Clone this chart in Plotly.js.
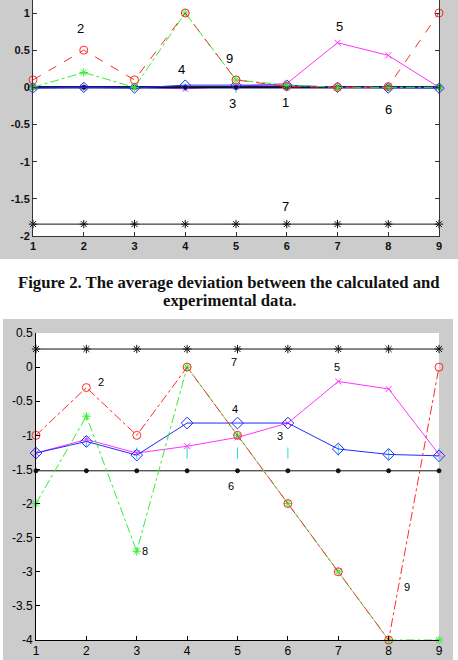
<!DOCTYPE html>
<html>
<head>
<meta charset="utf-8">
<script src="https://cdn.plot.ly/plotly-3.0.1.min.js"></script>
<style>
  html, body { margin: 0; padding: 0; background: #ffffff; }
  #chart { width: 458px; height: 660px; }
</style>
</head>
<body>
<div id="chart"></div>
<script>
// Sample index shared by both panels
const idx = [1, 2, 3, 4, 5, 6, 7, 8, 9];

// Upper panel: average deviation per series
const upS1 = [0, 0, 0, 0, 0, 0, 0, 0, 0];
const upS2 = [0.1, 0.5, 0.1, 1.0, 0.1, 0.01, 0, 0.01, 1.0];
const upS3 = [0, 0, 0, 0, -0.02, 0, 0, 0, 0];
const upS4 = [-0.01, 0, -0.01, 0.03, 0.03, 0.03, 0, -0.01, -0.01];
const upS5 = [0, 0, 0, -0.02, 0.01, 0.05, 0.6, 0.43, 0];
const upS6 = [0, 0, 0, 0, 0, 0, 0, 0, 0];
const upS7 = [-1.84, -1.84, -1.84, -1.84, -1.84, -1.84, -1.84, -1.84, -1.84];
const upS8 = [0, 0.2, 0, 1.0, 0.1, 0.03, 0, 0, 0];

// Upper panel series labels
const upLabelText = ['1', '2', '3', '4', '5', '6', '7', '8', '9'];
const upLabelX = [5.98, 1.94, 4.94, 3.92, 7.03, 8.01, 5.97, 3.88, 4.88];
const upLabelY = [-0.21, 0.785, -0.215, 0.243, 0.816, -0.296, -1.597, 1.2, 0.39];

// Lower panel
const loS2 = [-1.0, -0.3, -1.0, 0, -1.0, -2.0, -3.0, -4.0, 0];
const loS3 = [-1.26, -1.09, -1.26, -1.26, -1.26, -1.26, -1.22, -1.28, -1.27];
const loS4 = [-1.26, -1.09, -1.29, -0.82, -0.82, -0.82, -1.2, -1.28, -1.3];
const loS5 = [-1.26, -1.06, -1.26, -1.16, -1.03, -0.82, -0.21, -0.32, -1.28];
const loS6 = [-1.52, -1.52, -1.52, -1.52, -1.52, -1.52, -1.52, -1.52, -1.52];
const loS7 = [0.265, 0.265, 0.265, 0.265, 0.265, 0.265, 0.265, 0.265, 0.265];
const loS8 = [-2.0, -0.72, -2.7, 0, -1.0, -2.0, -3.0, -4.0, -4.0];

const loLabelText = ['2', '3', '4', '5', '6', '7', '8', '9'];
const loLabelX = [2.29, 5.85, 4.95, 6.98, 4.87, 4.94, 3.17, 8.36];
const loLabelY = [-0.22, -1.01, -0.62, 0.0, -1.74, 0.08, -2.69, -3.23];

// Tick labels (hyphen minus, as printed)
const upYTickVals = [1, 0.5, 0, -0.5, -1, -1.5, -2];
const upYTickText = ['1', '0.5', '0', '-0.5', '-1', '-1.5', '-2'];
const loYTickVals = [0.5, 0, -0.5, -1, -1.5, -2, -2.5, -3, -3.5, -4];
const loYTickText = ['0.5', '0', '-0.5', '-1', '-1.5', '-2', '-2.5', '-3', '-3.5', '-4'];
const xTickText = ['1', '2', '3', '4', '5', '6', '7', '8', '9'];

// Caption, one entry per printed line
const captionLines = ['Figure 2. The average deviation between the calculated and', 'experimental data.'];

// MATLAB-like colours
const RED = '#ff2a2a', GREEN = '#33ee33', BLUE = '#1f2cff', MAG = '#ff33ff',
      CYAN = '#22dddd', NAVY = '#1a1a66', BLACK = '#111111';

function line(x, y, ax, color, dash, symbol, size, width, mode) {
  return {
    x: x, y: y, xaxis: ax[0], yaxis: ax[1], type: 'scatter', mode: mode || 'lines+markers',
    line: { color: color, dash: dash, width: width || 1 },
    marker: { symbol: symbol, size: size, color: color, line: { color: color, width: 1 } },
    hoverinfo: 'skip', cliponaxis: false
  };
}
const UP = ['x', 'y'], LO = ['x2', 'y2'];

const traces = [
  // upper panel
  line(idx, upS7, UP, BLACK, 'solid', 'asterisk-open', 7),
  line(idx, upS3, UP, CYAN, 'solid', 'line-ns-open', 6, 1, 'markers'),
  line(idx, upS5, UP, MAG, 'solid', 'x-thin-open', 6),
  line(idx, upS6, UP, NAVY, 'solid', 'circle', 1, 2.5),
  line(idx, upS1, UP, BLACK, 'solid', 'circle', 4),
  line(idx, upS4, UP, BLUE, 'solid', 'diamond-open', 8),
  line(idx, upS8, UP, GREEN, 'dashdot', 'asterisk-open', 7),
  line(idx, upS2, UP, RED, 'dash', 'circle-open', 8),
  // lower panel
  line(idx, loS7, LO, BLACK, 'solid', 'asterisk-open', 7),
  line(idx, loS6, LO, BLACK, 'solid', 'circle', 4),
  line(idx, loS3, LO, CYAN, 'solid', 'line-ns-open', 8, 1, 'markers'),
  line(idx, loS5, LO, MAG, 'solid', 'x-thin-open', 6),
  line(idx, loS4, LO, BLUE, 'solid', 'diamond-open', 9),
  line(idx, loS8, LO, GREEN, 'dashdot', 'asterisk-open', 7),
  line(idx, loS2, LO, RED, 'dashdot', 'circle-open', 8)
];

const H = 660, W = 458;

const annotations = [];
upLabelText.forEach((t, i) => annotations.push({
  x: upLabelX[i], y: upLabelY[i], xref: 'x', yref: 'y', text: t, showarrow: false,
  font: { family: 'Liberation Sans, Arial', size: 13, color: '#000' }
}));
loLabelText.forEach((t, i) => annotations.push({
  x: loLabelX[i], y: loLabelY[i], xref: 'x2', yref: 'y2', text: t, showarrow: false,
  font: { family: 'Liberation Sans, Arial', size: 11, color: '#000' }
}));
const captionY = [282, 300];
captionLines.forEach((t, i) => annotations.push({
  x: 0.5, y: 1 - captionY[i] / H, xref: 'paper', yref: 'paper', text: '<b>' + t + '</b>', showarrow: false,
  font: { family: 'Liberation Serif', size: 16.7, color: '#111' },
  align: 'center', yanchor: 'middle'
}));

const layout = {
  width: W, height: H,
  margin: { l: 0, r: 0, t: 0, b: 0, pad: 0 },
  paper_bgcolor: '#ffffff', plot_bgcolor: 'rgba(0,0,0,0)',
  showlegend: false,
  shapes: [
    // figure frames (grey) and white axes areas
    { type: 'rect', xref: 'paper', yref: 'paper', x0: 0, x1: 1, y0: 1 - 259 / H, y1: 1,
      fillcolor: '#cccccc', line: { width: 0 }, layer: 'below' },
    { type: 'rect', xref: 'paper', yref: 'paper', x0: 3 / W, x1: 453 / W, y0: 0, y1: 1 - 319 / H,
      fillcolor: '#cccccc', line: { width: 0 }, layer: 'below' },
    { type: 'rect', xref: 'paper', yref: 'paper', x0: 33 / W, x1: 439 / W, y0: 1 - 236 / H, y1: 1,
      fillcolor: '#ffffff', line: { width: 0 }, layer: 'below' },
    { type: 'rect', xref: 'paper', yref: 'paper', x0: 36 / W, x1: 439 / W, y0: 1 - 640 / H, y1: 1 - 333 / H,
      fillcolor: '#ffffff', line: { width: 0 }, layer: 'below' }
  ],
  xaxis: {
    domain: [33 / W, 439 / W], range: [1, 9], anchor: 'y',
    tickvals: idx, ticktext: xTickText, ticks: 'inside', ticklen: 4, tickcolor: '#333',
    showline: true, linecolor: '#333', linewidth: 1, mirror: false,
    showgrid: false, zeroline: false,
    tickfont: { family: 'Liberation Sans, Arial', size: 11, color: '#111', weight: 'bold' }
  },
  yaxis: {
    domain: [1 - 236 / H, 1], range: [-2, 1.175], anchor: 'x',
    tickvals: upYTickVals, ticktext: upYTickText, ticks: 'inside', ticklen: 4, tickcolor: '#333',
    showline: true, linecolor: '#333', linewidth: 1, mirror: 'ticks',
    showgrid: false, zeroline: false,
    tickfont: { family: 'Liberation Sans, Arial', size: 11, color: '#111', weight: 'bold' }
  },
  xaxis2: {
    domain: [36 / W, 439 / W], range: [1, 9], anchor: 'y2',
    tickvals: idx, ticktext: xTickText, ticks: 'inside', ticklen: 4, tickcolor: '#000',
    showline: true, linecolor: '#000', linewidth: 1, mirror: false,
    showgrid: false, zeroline: false,
    tickfont: { family: 'Liberation Sans, Arial', size: 12, color: '#000' }
  },
  yaxis2: {
    domain: [1 - 640 / H, 1 - 333 / H], range: [-4, 0.5], anchor: 'x2',
    tickvals: loYTickVals, ticktext: loYTickText, ticks: 'inside', ticklen: 4, tickcolor: '#000',
    showline: true, linecolor: '#000', linewidth: 1, mirror: false,
    showgrid: false, zeroline: false,
    tickfont: { family: 'Liberation Sans, Arial', size: 12, color: '#000' }
  },
  annotations: annotations
};

Plotly.newPlot('chart', traces, layout, { displayModeBar: false, staticPlot: true });
</script>
</body>
</html>
